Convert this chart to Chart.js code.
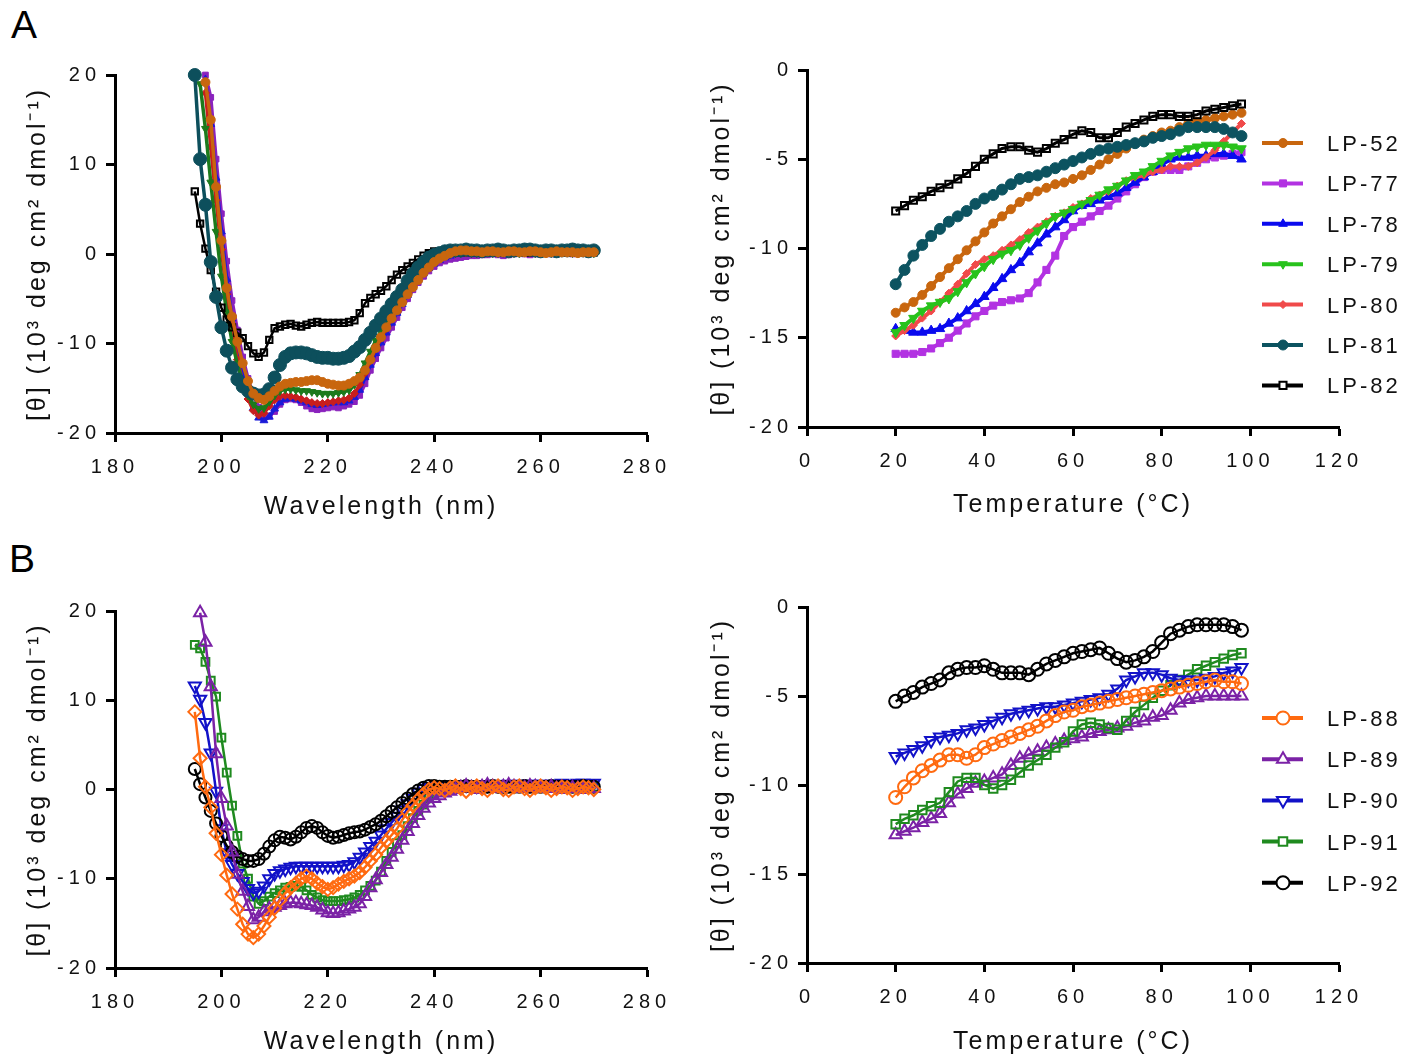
<!DOCTYPE html>
<html>
<head>
<meta charset="utf-8">
<script src="https://cdn.jsdelivr.net/npm/chart.js@4.4.1/dist/chart.umd.min.js"></script>
<style>
  body { margin: 0; background: #fff; width: 1415px; height: 1057px; position: relative; overflow: hidden;
         font-family: 'Liberation Sans', Arial, sans-serif; }
  canvas { position: absolute; }
  .tag { position: absolute; font-size: 39px; line-height: 1; color: #000; }
</style>
</head>
<body>
<div class="tag" style="left:11px;top:5px">A</div>
<div class="tag" style="left:9px;top:539px">B</div>
<canvas id="aLeft" width="690" height="480" style="left:0;top:50px"></canvas>
<canvas id="aRight" width="725" height="480" style="left:690px;top:50px"></canvas>
<canvas id="bLeft" width="690" height="477" style="left:0;top:580px"></canvas>
<canvas id="bRight" width="725" height="477" style="left:690px;top:580px"></canvas>
<script>
// ---- x values ----
const wavelength = [195,196,197,198,199,200,201,202,203,204,205,206,207,208,209,210,211,212,213,214,
  215,216,217,218,219,220,221,222,223,224,225,226,227,228,229,230,231,232,233,234,
  235,236,237,238,239,240,241,242,243,244,245,246,247,248,249,250,251,252,253,254,
  255,256,257,258,259,260,261,262,263,264,265,266,267,268,269,270];
const temperature = [20,22,24,26,28,30,32,34,36,38,40,42,44,46,48,50,52,54,56,58,
  60,62,64,66,68,70,72,74,76,78,80,82,84,86,88,90,92,94,96,98];

// ---- panel A, spectra (10^3 deg cm2 dmol-1) ----
const specLP52 = [null,null,19.2,15,7.5,1.5,-3.8,-7.0,-9.8,-12.2,
  -14.2,-15.6,-16.1,-16.3,-15.9,-15.3,-14.8,-14.5,-14.4,-14.3,
  -14.3,-14.2,-14.1,-14.1,-14.3,-14.5,-14.6,-14.7,-14.7,-14.5,
  -14.2,-13.8,-13.0,-11.8,-10.5,-9.3,-8.2,-7.2,-6.3,-5.4,
  -4.5,-3.7,-2.9,-2.1,-1.5,-0.9,-0.5,-0.2,0.1,0.3,
  0.4,0.4,0.3,0.3,0.2,0.3,0.3,0.2,0.2,0.3,
  0.3,0.2,0.2,0.3,0.3,0.2,0.1,0.2,0.3,0.2,
  0.2,0.2,0.1,0.2,0.2,0.2];
const specLP77 = [null,null,20,17.5,10.6,4.5,-0.8,-5.2,-8.5,-11.5,
  -13.9,-15.8,-17.1,-18.2,-18.1,-17.6,-16.8,-16.3,-16.2,-16.3,
  -16.6,-17.0,-17.3,-17.4,-17.3,-17.2,-17.1,-17.2,-17.0,-16.8,
  -16.5,-15.8,-14.5,-13.0,-11.7,-10.5,-9.4,-8.2,-7.1,-6.0,
  -5.0,-4.0,-3.2,-2.5,-1.9,-1.4,-1.0,-0.8,-0.6,-0.5,
  -0.4,-0.3,-0.2,-0.2,-0.1,-0.1,0.0,-0.1,-0.2,-0.1,
  0.0,0.1,0.0,-0.1,0.0,0.1,0.1,0.0,0.0,0.1,
  0.1,0.0,0.1,0.1,0.0,0.1];
const specLP78 = [null,null,19.5,14.5,8.5,2.5,-2.8,-7.2,-10.6,-13.4,
  -15.6,-17.2,-18.3,-18.6,-18.2,-17.3,-16.6,-16.2,-16.1,-16.2,
  -16.4,-16.6,-16.8,-16.9,-16.8,-16.7,-16.6,-16.6,-16.6,-16.4,
  -16.0,-15.2,-13.8,-12.4,-11.1,-9.9,-8.8,-7.7,-6.6,-5.6,
  -4.6,-3.7,-2.9,-2.2,-1.6,-1.1,-0.7,-0.4,-0.2,0.0,
  0.1,0.2,0.2,0.2,0.3,0.2,0.2,0.3,0.3,0.2,
  0.2,0.3,0.3,0.2,0.2,0.3,0.2,0.2,0.3,0.3,
  0.2,0.2,0.3,0.2,0.2,0.2];
const specLP79 = [null,19,14,8,2.5,-2.5,-6.5,-9.8,-12.3,-14.3,
  -15.8,-16.8,-17.3,-17.2,-16.5,-15.8,-15.3,-15.1,-15.1,-15.2,
  -15.3,-15.3,-15.4,-15.5,-15.6,-15.6,-15.6,-15.5,-15.4,-15.2,
  -14.6,-13.5,-12.2,-10.9,-9.7,-8.6,-7.6,-6.6,-5.6,-4.7,
  -3.8,-3.0,-2.3,-1.7,-1.1,-0.6,-0.3,-0.1,0.0,0.1,
  0.1,0.2,0.1,0.1,0.2,0.2,0.1,0.1,0.2,0.2,
  0.1,0.1,0.2,0.2,0.1,0.1,0.2,0.1,0.1,0.2,
  0.2,0.1,0.1,0.2,0.1,0.1];
const specLP80 = [null,null,18,12,6,0.5,-4.5,-8.5,-11.8,-14.3,
  -16.2,-17.5,-18.0,-17.8,-17.0,-16.3,-15.9,-15.8,-15.9,-16.0,
  -16.2,-16.4,-16.6,-16.7,-16.7,-16.6,-16.5,-16.4,-16.3,-16.1,
  -15.6,-14.6,-13.3,-11.9,-10.6,-9.4,-8.3,-7.2,-6.2,-5.2,
  -4.3,-3.4,-2.6,-1.9,-1.3,-0.8,-0.4,-0.1,0.0,0.1,
  0.2,0.1,0.1,0.2,0.2,0.1,0.2,0.2,0.1,0.1,
  0.2,0.2,0.1,0.1,0.2,0.2,0.1,0.2,0.2,0.1,
  0.1,0.2,0.2,0.1,0.2,0.2];
const specLP81 = [20,10.6,5.5,-0.9,-4.8,-8.2,-10.8,-12.7,-14.0,-14.8,
  -15.3,-15.6,-15.8,-15.7,-15.1,-13.8,-12.4,-11.5,-11.1,-11.0,
  -11.0,-11.1,-11.3,-11.5,-11.6,-11.6,-11.7,-11.7,-11.6,-11.4,
  -10.9,-10.4,-9.6,-8.8,-8.0,-7.2,-6.4,-5.6,-4.8,-4.0,
  -3.0,-2.2,-1.5,-0.9,-0.4,-0.1,0.1,0.3,0.4,0.4,
  0.4,0.5,0.4,0.4,0.3,0.4,0.4,0.5,0.4,0.3,
  0.4,0.4,0.5,0.5,0.4,0.3,0.4,0.4,0.3,0.4,
  0.4,0.5,0.4,0.4,0.3,0.4];
const specLP82 = [7.0,3.4,0.6,-1.8,-4.2,-6.0,-7.3,-8.2,-8.8,-9.4,
  -10.3,-11.1,-11.5,-11.0,-9.6,-8.3,-8.1,-7.9,-7.8,-8.0,
  -8.1,-7.9,-7.7,-7.6,-7.7,-7.7,-7.7,-7.7,-7.7,-7.6,
  -7.4,-6.6,-5.5,-4.9,-4.5,-4.1,-3.6,-2.9,-2.3,-1.8,
  -1.4,-1.0,-0.6,-0.2,0.1,0.3,0.3,0.3,0.2,0.2,
  0.2,0.3,0.2,0.2,0.2,0.3,0.2,0.2,0.2,0.2,
  0.3,0.2,0.2,0.2,0.3,0.2,0.2,0.2,0.3,0.2,
  0.2,0.2,0.2,0.3,0.2,0.2];

// ---- panel A, thermal melts ----
const meltLP52 = [-13.6,-13.3,-13.0,-12.6,-12.1,-11.6,-11.1,-10.6,-10.1,-9.6,
  -9.1,-8.6,-8.2,-7.8,-7.4,-7.1,-6.8,-6.6,-6.4,-6.3,
  -6.1,-5.9,-5.6,-5.3,-5.0,-4.7,-4.4,-4.1,-3.9,-3.7,
  -3.5,-3.4,-3.2,-3.0,-2.9,-2.8,-2.7,-2.6,-2.5,-2.4];
const meltLP77 = [-15.9,-15.9,-15.9,-15.8,-15.6,-15.3,-15.0,-14.6,-14.2,-13.8,
  -13.5,-13.2,-13.0,-12.9,-12.8,-12.5,-11.9,-11.2,-10.4,-9.3,
  -8.8,-8.5,-8.2,-7.9,-7.6,-7.2,-6.8,-6.4,-6.0,-5.7,
  -5.6,-5.6,-5.6,-5.4,-5.2,-5.0,-4.9,-4.8,-4.7,-4.6];
const meltLP78 = [-14.5,-14.6,-14.7,-14.7,-14.6,-14.5,-14.2,-13.9,-13.5,-13.1,
  -12.7,-12.2,-11.7,-11.2,-10.8,-10.2,-9.7,-9.2,-8.8,-8.4,
  -7.9,-7.6,-7.5,-7.3,-7.1,-6.9,-6.6,-6.3,-6.0,-5.7,
  -5.3,-5.0,-4.9,-4.9,-4.8,-4.8,-4.7,-4.7,-4.8,-5.0];
const meltLP79 = [-14.7,-14.3,-13.9,-13.5,-13.2,-13.0,-12.8,-12.4,-11.9,-11.4,
  -11.0,-10.6,-10.3,-10.1,-9.8,-9.4,-9.0,-8.6,-8.2,-8.0,
  -7.8,-7.5,-7.3,-7.0,-6.7,-6.5,-6.2,-5.9,-5.7,-5.4,
  -5.1,-4.8,-4.6,-4.4,-4.3,-4.2,-4.2,-4.2,-4.3,-4.4];
const meltLP80 = [-14.9,-14.6,-14.3,-13.9,-13.5,-13.0,-12.5,-12.0,-11.4,-10.9,
  -10.6,-10.4,-10.1,-9.8,-9.5,-9.1,-8.8,-8.5,-8.2,-8.0,
  -7.7,-7.5,-7.2,-7.0,-6.8,-6.5,-6.2,-6.0,-5.9,-5.7,
  -5.6,-5.4,-5.4,-5.4,-5.2,-4.9,-4.5,-4.0,-3.5,-3.0];
const meltLP81 = [-12.0,-11.2,-10.4,-9.8,-9.3,-8.9,-8.5,-8.2,-7.9,-7.5,
  -7.2,-7.0,-6.7,-6.4,-6.1,-6.0,-5.9,-5.7,-5.5,-5.3,
  -5.1,-4.9,-4.7,-4.5,-4.4,-4.3,-4.2,-4.1,-4.0,-3.8,
  -3.7,-3.6,-3.4,-3.2,-3.2,-3.2,-3.2,-3.3,-3.5,-3.7];
const meltLP82 = [-7.9,-7.6,-7.3,-7.1,-6.8,-6.6,-6.4,-6.1,-5.8,-5.4,
  -5.0,-4.7,-4.4,-4.3,-4.3,-4.5,-4.6,-4.4,-4.1,-3.9,
  -3.6,-3.4,-3.5,-3.8,-3.8,-3.5,-3.2,-3.0,-2.8,-2.6,
  -2.5,-2.5,-2.6,-2.6,-2.5,-2.3,-2.2,-2.1,-2.0,-1.9];

// ---- panel B, spectra ----
const specLP88 = [8.7,3.5,0.3,-2.0,-4.9,-7.3,-9.6,-11.7,-13.4,-15.1,
  -16.2,-16.6,-16.2,-15.3,-14.3,-13.3,-12.4,-11.6,-11.0,-10.5,
  -10.0,-9.7,-10.0,-10.5,-10.9,-11.2,-11.0,-10.6,-10.3,-10.0,
  -9.7,-9.3,-8.7,-8.0,-7.3,-6.5,-5.8,-5.1,-4.4,-3.4,
  -2.5,-1.8,-1.1,-0.5,0.0,0.2,0.1,-0.1,0.2,0.4,
  0.1,-0.2,0.2,0.4,0.1,-0.1,0.3,0.4,0.0,-0.1,
  0.3,0.4,0.1,-0.1,0.2,0.4,0.2,-0.1,0.1,0.3,
  0.2,-0.1,0.1,0.3,0.2,0.0];
const specLP89 = [null,19.8,16.5,11.5,4.0,-1.0,-4.1,-7.0,-9.5,-11.4,
  -13.1,-14.6,-14.3,-13.7,-13.4,-13.2,-13.0,-12.8,-12.7,-12.7,
  -12.8,-12.9,-13.0,-13.2,-13.5,-13.8,-13.9,-13.8,-13.6,-13.4,
  -13.2,-12.8,-12.0,-11.0,-10.1,-9.3,-8.4,-7.6,-6.7,-5.7,
  -4.7,-3.8,-2.9,-2.1,-1.5,-1.0,-0.7,-0.4,-0.2,0.0,
  0.2,0.4,0.2,0.0,0.3,0.5,0.3,0.1,0.3,0.5,
  0.3,0.1,0.2,0.4,0.3,0.1,0.2,0.3,0.1,0.0,
  0.1,0.2,0.1,0.0,0.1,0.1];
const specLP90 = [11.6,10.1,7.5,4.1,-0.2,-4.4,-7.1,-8.4,-9.4,-10.3,
  -11.1,-11.6,-11.4,-10.8,-10.0,-9.4,-9.1,-8.9,-8.7,-8.6,
  -8.6,-8.6,-8.6,-8.6,-8.6,-8.6,-8.6,-8.6,-8.5,-8.4,
  -8.1,-7.6,-7.0,-6.4,-5.8,-5.1,-4.4,-3.7,-3.0,-2.3,
  -1.6,-1.0,-0.3,0.1,0.3,0.3,0.4,0.4,0.5,0.4,
  0.4,0.5,0.5,0.4,0.5,0.5,0.6,0.5,0.5,0.6,
  0.5,0.6,0.6,0.5,0.6,0.6,0.5,0.6,0.6,0.7,
  0.6,0.6,0.7,0.7,0.6,0.7];
const specLP91 = [16.2,15.8,14.3,12.2,10.4,5.8,1.9,-1.8,-5.2,-8.3,
  -10.0,-12.0,-12.8,-12.5,-12.0,-11.6,-11.3,-11.0,-10.9,-10.8,
  -10.9,-11.3,-11.8,-12.1,-12.4,-12.5,-12.5,-12.5,-12.4,-12.3,
  -12.1,-11.8,-11.3,-10.8,-10.2,-9.2,-8.0,-7.0,-6.0,-5.1,
  -4.1,-3.2,-2.4,-1.7,-1.0,-0.5,-0.3,-0.1,0.1,0.2,
  0.2,0.3,0.2,0.2,0.3,0.2,0.2,0.3,0.3,0.2,
  0.3,0.3,0.2,0.3,0.3,0.2,0.3,0.2,0.3,0.3,
  0.2,0.3,0.3,0.2,0.3,0.3];
const specLP92 = [2.3,0.6,-0.9,-2.4,-3.8,-5.2,-6.3,-7.0,-7.5,-7.8,
  -8.0,-8.0,-7.8,-7.2,-6.4,-5.7,-5.3,-5.4,-5.6,-5.3,
  -4.8,-4.3,-4.1,-4.3,-4.8,-5.2,-5.4,-5.3,-5.1,-4.9,
  -4.8,-4.7,-4.5,-4.2,-3.9,-3.5,-3.0,-2.5,-2.0,-1.5,
  -1.0,-0.5,-0.1,0.2,0.4,0.4,0.3,0.3,0.3,0.3,
  0.3,0.4,0.3,0.3,0.3,0.3,0.4,0.3,0.3,0.3,
  0.3,0.3,0.4,0.3,0.3,0.3,0.3,0.4,0.3,0.3,
  0.3,0.3,0.3,0.4,0.3,0.3];

// ---- panel B, thermal melts ----
const meltLP88 = [-10.7,-10.1,-9.6,-9.2,-8.9,-8.6,-8.3,-8.3,-8.5,-8.3,
  -7.9,-7.7,-7.5,-7.3,-7.1,-6.9,-6.7,-6.4,-6.1,-5.9,
  -5.8,-5.6,-5.5,-5.4,-5.3,-5.2,-5.1,-5.0,-4.9,-4.8,
  -4.7,-4.6,-4.5,-4.4,-4.3,-4.2,-4.1,-4.2,-4.2,-4.3];
const meltLP89 = [-12.8,-12.6,-12.4,-12.1,-11.9,-11.6,-11.0,-10.5,-10.2,-9.9,
  -9.8,-9.6,-9.4,-8.9,-8.5,-8.3,-8.1,-7.9,-7.7,-7.5,
  -7.4,-7.3,-7.1,-7.0,-6.9,-6.8,-6.7,-6.5,-6.4,-6.2,
  -6.1,-5.8,-5.4,-5.2,-5.1,-5.0,-5.0,-5.0,-5.0,-5.0];
const meltLP90 = [-8.4,-8.2,-8.0,-7.8,-7.5,-7.3,-7.2,-7.1,-6.9,-6.8,
  -6.6,-6.4,-6.2,-6.0,-5.9,-5.8,-5.7,-5.6,-5.6,-5.5,
  -5.4,-5.3,-5.2,-5.1,-4.9,-4.6,-4.1,-3.9,-3.7,-3.7,
  -3.8,-4.0,-4.1,-4.1,-4.1,-4.0,-3.9,-3.7,-3.6,-3.4];
const meltLP91 = [-12.2,-11.9,-11.7,-11.4,-11.2,-11.0,-10.4,-9.8,-9.6,-9.6,
  -10.0,-10.2,-10.0,-9.7,-9.3,-8.9,-8.6,-8.3,-7.9,-7.6,
  -7.0,-6.6,-6.5,-6.6,-6.8,-6.9,-6.4,-5.9,-5.5,-5.1,
  -4.7,-4.4,-4.1,-3.8,-3.5,-3.3,-3.1,-2.9,-2.7,-2.6];
const meltLP92 = [-5.3,-5.0,-4.8,-4.5,-4.3,-4.1,-3.7,-3.5,-3.4,-3.4,
  -3.3,-3.5,-3.7,-3.7,-3.7,-3.8,-3.5,-3.2,-3.0,-2.8,
  -2.6,-2.5,-2.4,-2.3,-2.6,-2.9,-3.1,-3.0,-2.8,-2.5,
  -2.0,-1.5,-1.3,-1.1,-1.0,-1.0,-1.0,-1.0,-1.1,-1.3];

const FONT = "'Liberation Sans', Arial, sans-serif";
const Y_TITLE = '[\u03b8] (10\u00b3 deg cm\u00b2 dmol\u207b\u00b9)';
const CLEAR = 'rgba(255,255,255,0)';

// GraphPad style wide letter spacing: titles 3px, tick labels (drawn after the datasets) 5px
const spacing = {
  id: 'spacing',
  beforeUpdate(chart) { chart.ctx.letterSpacing = '3px'; },
  beforeDraw(chart) { chart.ctx.letterSpacing = '3px'; },
  afterDatasetsDraw(chart) { chart.ctx.letterSpacing = '5px'; }
};

// legend drawn as "line + marker + label", placed by hand beside the plot
const lineLegend = {
  id: 'lineLegend',
  afterDraw(chart, args, o) {
    const ctx = chart.ctx;
    ctx.save();
    ctx.letterSpacing = '3px';
    chart.data.datasets.forEach((ds, i) => {
      const y = o.y + i * o.gap;
      ctx.strokeStyle = ds.borderColor;
      ctx.lineWidth = 4;
      ctx.beginPath();
      ctx.moveTo(o.x, y);
      ctx.lineTo(o.x + 41, y);
      ctx.stroke();
      ctx.fillStyle = ds.pointBackgroundColor === CLEAR ? '#fff' : ds.pointBackgroundColor;
      ctx.strokeStyle = ds.borderColor;
      ctx.lineWidth = ds.pointBorderWidth;
      Chart.helpers.drawPoint(ctx, {
        pointStyle: ds.pointStyle, rotation: ds.pointRotation || 0,
        radius: Math.min(ds.pointRadius, o.maxR), borderWidth: ds.pointBorderWidth
      }, o.x + 21, y);
      ctx.fillStyle = '#111';
      ctx.font = '22px ' + FONT;
      ctx.textAlign = 'left';
      ctx.textBaseline = 'middle';
      ctx.fillText(ds.label, o.x + 65, y + 2);
    });
    ctx.restore();
  }
};

function series(label, xs, ys, color, style, r, open, rot, lw, order) {
  return {
    label: label,
    data: xs.map((x, i) => ({ x: x, y: ys[i] })),
    borderColor: color,
    backgroundColor: color,
    borderWidth: lw,
    pointStyle: style,
    pointRadius: r,
    pointRotation: rot,
    pointBackgroundColor: open ? CLEAR : color,
    pointBorderColor: color,
    pointBorderWidth: open ? 2 : 1,
    tension: 0,
    clip: false,
    order: order
  };
}

function axis(min, max, step, title, titleFont, titlePad, fit, isX) {
  return {
    type: 'linear', min: min, max: max,
    afterFit: fit,
    ticks: { stepSize: step, autoSkip: false, maxRotation: 0, color: '#111', z: 1,
             font: { family: FONT, size: 20 }, padding: isX ? 13 : 5 },
    grid: { drawOnChartArea: false, drawTicks: true, tickLength: 9, tickWidth: 3, color: '#000' },
    border: { display: true, width: 3, color: '#000' },
    title: { display: true, text: title, color: '#111', font: { family: FONT, size: titleFont },
             padding: isX ? { top: 0, bottom: titlePad } : { top: titlePad, bottom: 0 } }
  };
}

function panel(id, sets, c) {
  return new Chart(document.getElementById(id), {
    type: 'line',
    data: { datasets: sets },
    options: {
      responsive: false, animation: false, devicePixelRatio: 1,
      layout: { padding: c.pad },
      plugins: { legend: { display: false }, tooltip: { enabled: false }, lineLegend: c.legend || false },
      scales: {
        x: axis(c.x[0], c.x[1], c.x[2], c.xTitle, 25, c.xPad, s => { s.height = c.xh; }, true),
        y: axis(c.y[0], c.y[1], c.y[2], Y_TITLE, 25, c.yPad, s => { s.width = c.yw; }, false)
      }
    },
    plugins: [spacing, lineLegend]
  });
}

// A left: CD spectra
panel('aLeft', [
  series('LP-52', wavelength, specLP52, '#c8660e', 'circle', 4.5, false, 0, 3.5, 0),
  series('LP-77', wavelength, specLP77, '#8a22bd', 'rect', 4, false, 0, 3.5, 6),
  series('LP-78', wavelength, specLP78, '#1a1ad8', 'triangle', 4.5, false, 0, 3.5, 5),
  series('LP-79', wavelength, specLP79, '#1c7a1c', 'triangle', 4.5, false, 180, 3.5, 3),
  series('LP-80', wavelength, specLP80, '#c81e1e', 'rectRot', 4, false, 0, 3.5, 4),
  series('LP-81', wavelength, specLP81, '#0d4f5c', 'circle', 6.5, false, 0, 3.5, 1),
  series('LP-82', wavelength, specLP82, '#000000', 'rect', 4.5, true, 0, 2.5, 2)
], { pad: { top: 25, right: 43, left: 0, bottom: 0 }, x: [180, 280, 20], y: [-20, 20, 10],
     xh: 97, yw: 115, xTitle: 'Wavelength (nm)', xPad: 8, yPad: 23 });

// A right: thermal melts
panel('aRight', [
  series('LP-52', temperature, meltLP52, '#c8660e', 'circle', 4.5, false, 0, 4, 2),
  series('LP-77', temperature, meltLP77, '#b232e2', 'rect', 5, false, 0, 4, 6),
  series('LP-78', temperature, meltLP78, '#0a0aee', 'triangle', 5.5, false, 0, 4, 5),
  series('LP-79', temperature, meltLP79, '#28c21c', 'triangle', 5.5, false, 180, 4, 3),
  series('LP-80', temperature, meltLP80, '#f04a4a', 'rectRot', 4, false, 0, 4, 4),
  series('LP-81', temperature, meltLP81, '#0c5360', 'circle', 5.5, false, 0, 4, 1),
  series('LP-82', temperature, meltLP82, '#000000', 'rect', 5, true, 0, 3, 0)
], { pad: { top: 20, right: 76, left: 0, bottom: 0 }, x: [0, 120, 20], y: [-20, 0, 5],
     xh: 103, yw: 117, xTitle: 'Temperature (\u00b0C)', xPad: 10, yPad: 17,
     legend: { x: 572, y: 93, gap: 40.4, maxR: 5 } });

// B left: CD spectra
panel('bLeft', [
  series('LP-88', wavelength, specLP88, '#ff6a10', 'rectRot', 6.5, true, 0, 2.5, 0),
  series('LP-89', wavelength, specLP89, '#7b22a6', 'triangle', 7, true, 0, 2.5, 1),
  series('LP-90', wavelength, specLP90, '#1212c8', 'triangle', 7, true, 180, 2.5, 3),
  series('LP-91', wavelength, specLP91, '#1f8a1f', 'rect', 5.5, true, 0, 2.5, 4),
  series('LP-92', wavelength, specLP92, '#000000', 'circle', 6, true, 0, 2.5, 2)
], { pad: { top: 31, right: 43, left: 0, bottom: 0 }, x: [180, 280, 20], y: [-20, 20, 10],
     xh: 89, yw: 115, xTitle: 'Wavelength (nm)', xPad: 0, yPad: 23 });

// B right: thermal melts
panel('bRight', [
  series('LP-88', temperature, meltLP88, '#ff6a10', 'circle', 6.5, true, 0, 2.5, 1),
  series('LP-89', temperature, meltLP89, '#7b22a6', 'triangle', 7, true, 0, 2.5, 4),
  series('LP-90', temperature, meltLP90, '#1212c8', 'triangle', 7, true, 180, 2.5, 2),
  series('LP-91', temperature, meltLP91, '#1f8a1f', 'rect', 6, true, 0, 2.5, 3),
  series('LP-92', temperature, meltLP92, '#000000', 'circle', 6.5, true, 0, 2.5, 0)
], { pad: { top: 27, right: 76, left: 0, bottom: 0 }, x: [0, 120, 20], y: [-20, 0, 5],
     xh: 94, yw: 117, xTitle: 'Temperature (\u00b0C)', xPad: 0, yPad: 17,
     legend: { x: 572, y: 138, gap: 41.2, maxR: 7 } });
</script>
</body>
</html>
